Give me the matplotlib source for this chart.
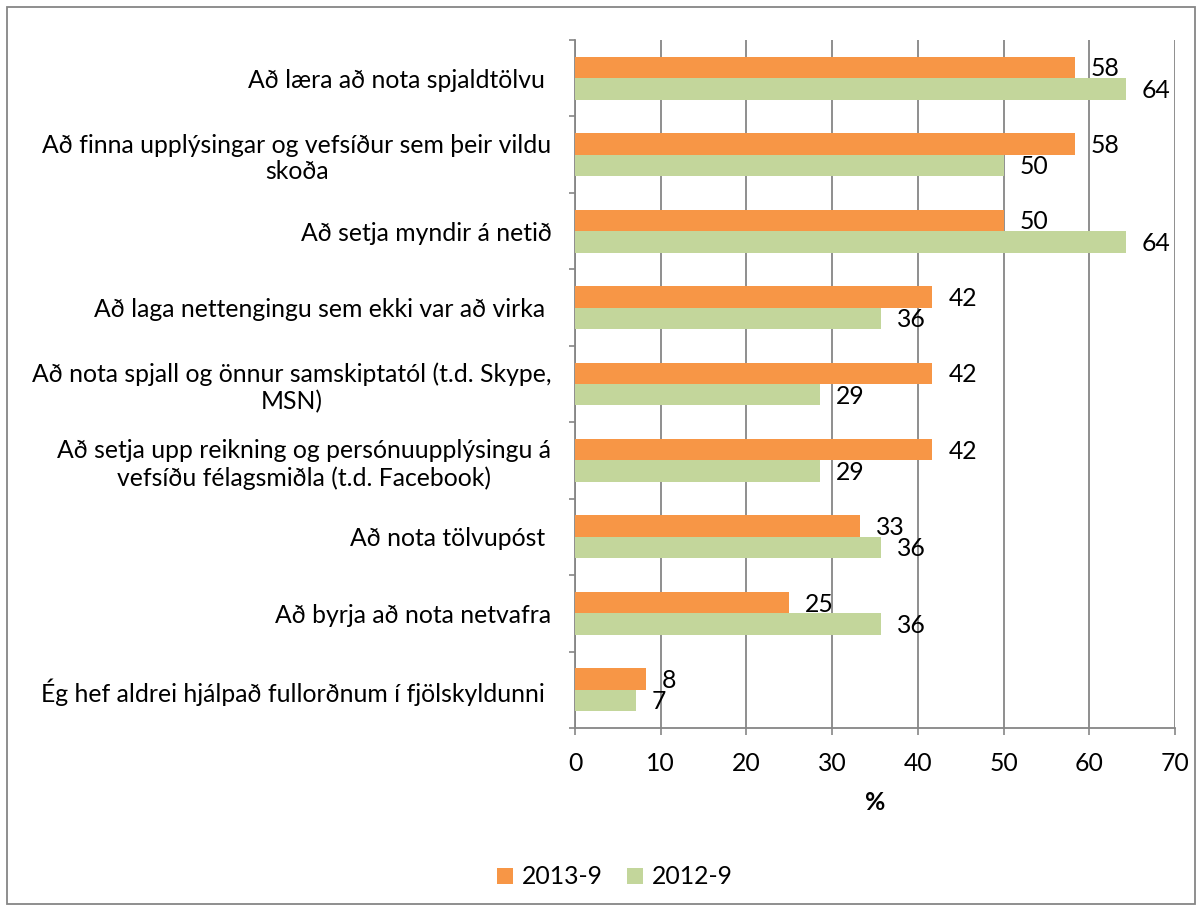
import matplotlib
matplotlib.use("Agg")
import matplotlib.pyplot as plt
from matplotlib.patches import Rectangle
import numpy as np

plt.rcParams['font.family'] = ['Lato', 'DejaVu Sans']

categories = [
    "Að læra að nota spjaldtölvu ",
    "Að finna upplýsingar og vefsíður sem þeir vildu\nskoða",
    "Að setja myndir á netið",
    "Að laga nettengingu sem ekki var að virka ",
    "Að nota spjall og önnur samskiptatól (t.d. Skype,\nMSN)",
    "Að setja upp reikning og persónuupplýsingu á\nvefsíðu félagsmiðla (t.d. Facebook)",
    "Að nota tölvupóst ",
    "Að byrja að nota netvafra",
    "Ég hef aldrei hjálpað fullorðnum í fjölskyldunni ",
]
series_names = ["2013-9", "2012-9"]
values_2013 = [58.3, 58.3, 50.0, 41.7, 41.7, 41.7, 33.3, 25.0, 8.3]
values_2012 = [64.3, 50.0, 64.3, 35.7, 28.6, 28.6, 35.7, 35.7, 7.1]
x_ticks = [0, 10, 20, 30, 40, 50, 60, 70]

c_orange = "#F79646"
c_green = "#C3D69B"
grid_c = "#868686"
FS = 17.8

fig = plt.figure(figsize=(12.02, 9.11), dpi=100)
ax = fig.add_axes([575/1202, 1-728/911, 600/1202, 688/911])

n = len(categories)
y = np.arange(n)
h = 0.28
b1 = ax.barh(y - h/2, values_2013, height=h, color=c_orange, label=series_names[0], zorder=3)
b2 = ax.barh(y + h/2, values_2012, height=h, color=c_green, label=series_names[1], zorder=3)

for bars, vals in ((b1, values_2013), (b2, values_2012)):
    for rect, v in zip(bars, vals):
        ax.annotate(f"{v:.0f}", xy=(rect.get_width(), rect.get_y() + rect.get_height()/2),
                    xytext=(11.5, -1), textcoords="offset points", ha="left", va="center",
                    fontsize=FS, color="black", zorder=4)

ax.set_xlim(0, 70)
ax.set_ylim(n - 0.5, -0.5)
ax.set_xticks(x_ticks)
ax.set_xticklabels([str(t) for t in x_ticks], fontsize=FS)
ax.set_yticks(y)
ax.set_yticklabels(categories, fontsize=FS, multialignment="center")
ax.set_yticks(np.arange(n + 1) - 0.5, minor=True)
ax.tick_params(axis="y", which="major", length=0, pad=17)
ax.tick_params(axis="y", which="minor", length=4, width=1.2, color=grid_c, direction="out")
ax.tick_params(axis="x", which="major", length=5, width=1.2, color=grid_c, direction="out", pad=12)

ax.xaxis.grid(True, color=grid_c, linewidth=1.3, zorder=0)
ax.set_axisbelow(True)
for s in ("top", "right"):
    ax.spines[s].set_visible(False)
for s in ("left", "bottom"):
    ax.spines[s].set_color(grid_c)
    ax.spines[s].set_linewidth(1.3)

ax.set_xlabel("%", fontsize=FS, fontweight="bold", labelpad=12)

leg = fig.legend(handles=[b1, b2], labels=series_names, loc="center",
                 bbox_to_anchor=(615/1202, 1-877/911), ncol=2, frameon=False,
                 fontsize=FS, handlelength=0.65, handleheight=0.65, handletextpad=0.35,
                 columnspacing=1.0)

fig.patches.append(Rectangle((7/1202, 7/911), 1188/1202, 897/911, transform=fig.transFigure,
                             fill=False, edgecolor="#868686", linewidth=1.3))

fig.savefig("out.png", dpi=100)
